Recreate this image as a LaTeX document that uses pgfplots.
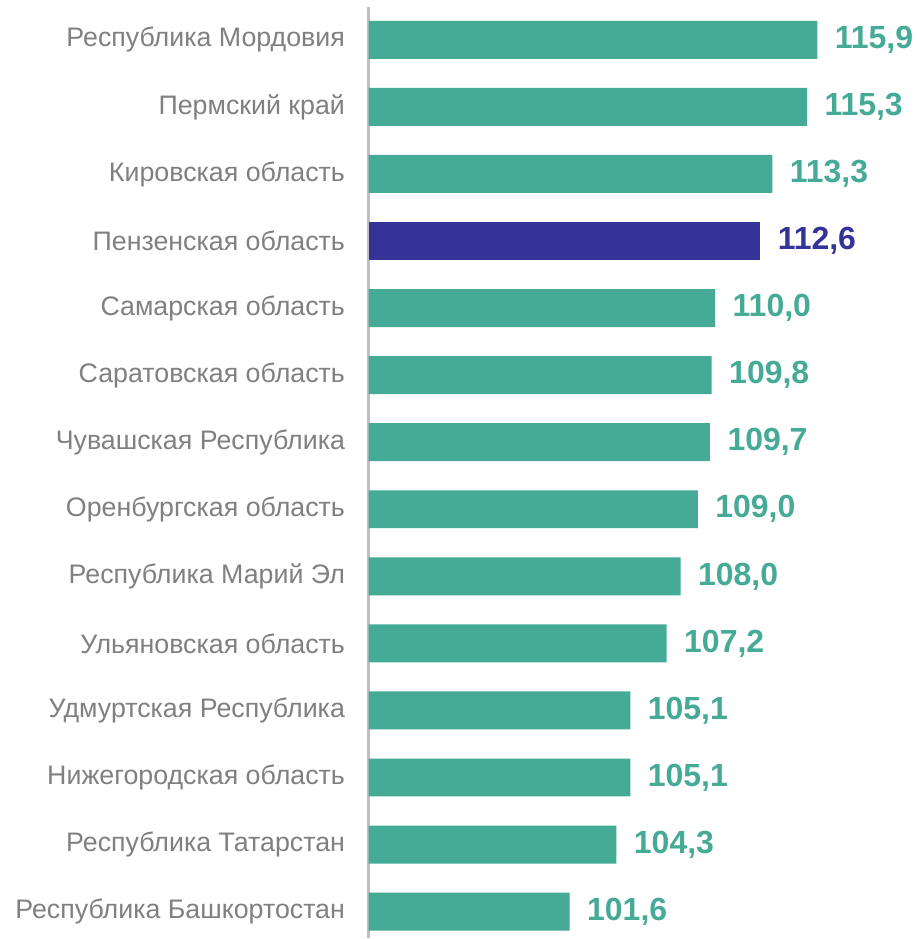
\documentclass[border=0pt]{standalone}
\usepackage{pgfplots}
\pgfplotsset{compat=1.18}
\usepackage{fontspec}
\setmainfont{Liberation Sans}
\definecolor{teal1}{HTML}{45AA96}
\definecolor{navy1}{HTML}{363398}
\definecolor{lblgray}{HTML}{808080}
\definecolor{axgray}{HTML}{BFBFBF}
\begin{document}
\begin{tikzpicture}
\begin{axis}[
  scale only axis,
  width=551pt, height=931.5pt,
  xmin=90, xmax=121.78,
  ymin=-0.49, ymax=13.39,
  y dir=reverse,
  xbar, bar width=38pt, bar shift=0pt,
  axis x line=none,
  axis y line*=left,
  y axis line style={draw=axgray, line width=2.5pt, -},
  ytick={0,...,13},
  yticklabels={Республика Мордовия, Пермский край, Кировская область, Пензенская область, Самарская область, Саратовская область, Чувашская Республика, Оренбургская область, Республика Марий Эл, Ульяновская область, Удмуртская Республика, Нижегородская область, Республика Татарстан, Республика Башкортостан},
  ytick style={draw=none},
  yticklabel style={font=\fontsize{26.8}{30}\selectfont, text=lblgray, xshift=-16pt},
  nodes near coords,
  point meta=x,
  nodes near coords style={anchor=west, xshift=14pt, font=\fontsize{32}{36}\selectfont\bfseries,
    /pgf/number format/fixed, /pgf/number format/fixed zerofill, /pgf/number format/precision=1,
    /pgf/number format/use comma, /pgf/number format/assume math mode=true},
  clip=false,
]
\addplot[fill=teal1, draw=none, nodes near coords style={text=teal1}] coordinates {
(115.9,0) (115.3,1) (113.3,2) (110.0,4) (109.8,5) (109.7,6) (109.0,7) (108.0,8) (107.2,9) (105.1,10) (105.1,11) (104.3,12) (101.6,13)};
\addplot[fill=navy1, draw=none, nodes near coords style={text=navy1}] coordinates {(112.6,3)};
\end{axis}
\path ([xshift=-369pt]current axis.south west) rectangle ([yshift=7pt]current axis.north east);
\end{tikzpicture}
\end{document}
